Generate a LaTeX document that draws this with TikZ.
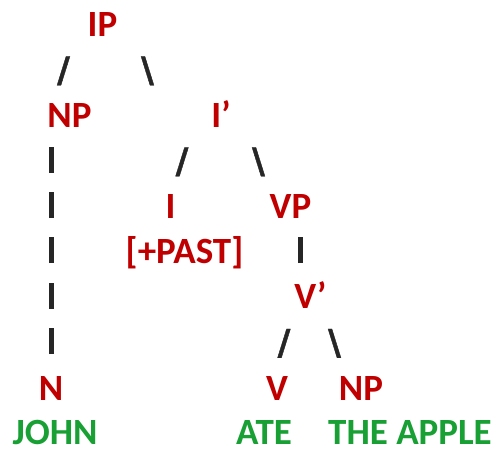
\documentclass[tikz,border=0pt]{standalone}
\usepackage{fontspec}
\setmainfont{Carlito}
\newfontfamily\branchfont[FakeBold=1.2]{DejaVu Sans Bold}
\definecolor{catred}{RGB}{192,0,0}
\definecolor{wordgreen}{RGB}{24,160,52}
\definecolor{linkgray}{RGB}{38,38,38}
\tikzstyle{txt} = [inner sep=0pt, anchor=base, font=\bfseries\fontsize{37}{45}\selectfont]
\tikzstyle{cat} = [txt, text=catred]
\tikzstyle{word} = [txt, text=wordgreen, text depth=0pt]
\tikzstyle{branch} = [inner sep=0pt, anchor=base, text=linkgray, font=\branchfont\fontsize{35}{45}\selectfont]
\newcommand{\stem}{\rule{4.8pt}{26pt}}

\begin{document}
\begin{tikzpicture}[x=1pt, y=-1pt]
	\useasboundingbox (0,0) rectangle (495,448);
	% categories
	\node [cat] (ip) at (102.5,36) {IP};
	\node [cat] (np) at (69.5,127) {NP};
	\node [cat] (ibar) at (221,127) {I’};
	\node [cat] (infl) at (170.5,218) {I};
	\node [cat] (past) at (184.5,263) {[+PAST]};
	\node [cat] (vp) at (290.5,218) {VP};
	\node [cat] (vbar) at (310.5,308.5) {V’};
	\node [cat] (n) at (51,400) {N};
	\node [cat] (v) at (277,400) {V};
	\node [cat] (obj) at (361,400) {NP};
	% words
	\node [word] (john) at (55,444) {JOHN};
	\node [word] (ate) at (264,444) {ATE};
	\node [word] (apple) at (410,444) {THE APPLE};
	% branches
	\node [branch] (ipl) at (63.5,82) {/};
	\node [branch] (ipr) at (147.5,82) {\textbackslash};
	\node [branch] (ibl) at (182,173) {/};
	\node [branch] (ibr) at (258.5,173) {\textbackslash};
	\node [branch] (vbl) at (284,354.5) {/};
	\node [branch] (vbr) at (334.5,354.5) {\textbackslash};
	\node [branch] (vpv) at (300.5,263) {\stem};
	\foreach \y/\k in {172.5/1, 218/2, 263/3, 308.5/4, 354/5}
		\node [branch] (npn\k) at (51.5,\y) {\stem};
\end{tikzpicture}
\end{document}
